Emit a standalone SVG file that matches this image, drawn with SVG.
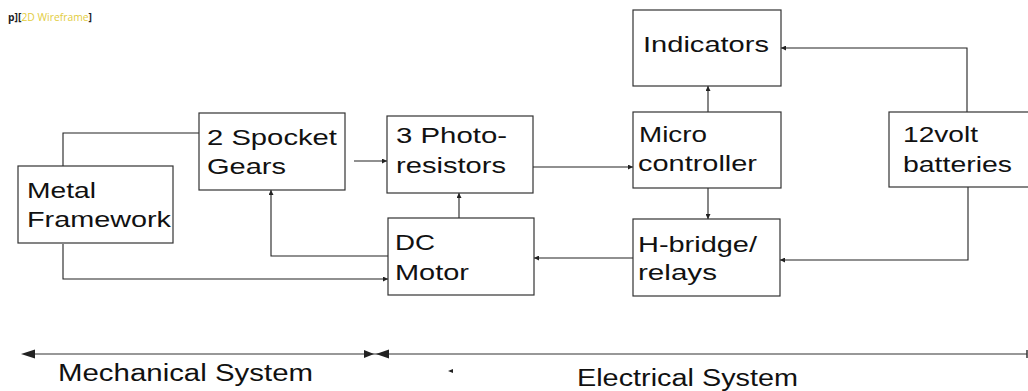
<svg xmlns="http://www.w3.org/2000/svg" width="1028" height="391" viewBox="0 0 1028 391">
  <defs>
    <marker id="ah" viewBox="0 0 10 10" refX="10" refY="5" markerWidth="6" markerHeight="5" orient="auto" markerUnits="userSpaceOnUse">
      <path d="M0,0 L10,5 L0,10 z" fill="#222"/>
    </marker>
  </defs>
  <style>
    .box { fill: #ffffff; stroke: #333333; stroke-width: 1.2; }
    .lbl { font-family: "Liberation Sans", Arial, sans-serif; font-size: 22.5px; fill: #111111; }
    .big { font-family: "Liberation Sans", Arial, sans-serif; font-size: 23px; fill: #111111; }
    .con { fill: none; stroke: #222222; stroke-width: 1.1; }
    .arr { marker-end: url(#ah); }
    .hd { fill: #222222; }
    .tag { font-family: "Open Sans", "Liberation Sans", sans-serif; font-size: 10px; font-weight: bold; fill: #222222; }
    .yel { fill: #e2cc3c; font-weight: normal; }
  </style>
  <rect width="1028" height="391" fill="#ffffff"/>

  <g id="viewport-label">
    <text class="tag" x="8" y="21" textLength="84" lengthAdjust="spacingAndGlyphs">p][<tspan class="yel">2D Wireframe</tspan>]</text>
  </g>

  <g id="connectors">
    <polyline class="con" points="63,166 63,133 199,133"/>
    <polyline class="con arr" points="63,244 63,279 388,279"/>
    <polyline class="con arr" points="388,256 271,256 271,190"/>
    <polyline class="con arr" points="354,161 387,161"/>
    <polyline class="con arr" points="459,218 459,193"/>
    <polyline class="con arr" points="533,167 633,167"/>
    <polyline class="con arr" points="633,258 534,258"/>
    <polyline class="con arr" points="708,112 708,86"/>
    <polyline class="con arr" points="708,188 708,219"/>
    <polyline class="con arr" points="967,112 967,48 781,48"/>
    <polyline class="con arr" points="968,187 968,260 780,260"/>
  </g>

  <g id="metal-framework">
    <rect class="box" x="18" y="166" width="155" height="77"/>
    <text class="lbl" x="27" y="198" textLength="69" lengthAdjust="spacingAndGlyphs">Metal</text>
    <text class="lbl" x="27" y="227" textLength="144" lengthAdjust="spacingAndGlyphs">Framework</text>
  </g>

  <g id="spocket-gears">
    <rect class="box" x="199" y="113" width="146" height="77"/>
    <text class="lbl" x="207" y="145" textLength="130" lengthAdjust="spacingAndGlyphs">2 Spocket</text>
    <text class="lbl" x="207" y="174" textLength="79" lengthAdjust="spacingAndGlyphs">Gears</text>
  </g>

  <g id="photo-resistors">
    <rect class="box" x="387" y="116" width="146" height="77"/>
    <text class="lbl" x="396" y="143" textLength="111" lengthAdjust="spacingAndGlyphs">3 Photo-</text>
    <text class="lbl" x="396" y="173" textLength="110" lengthAdjust="spacingAndGlyphs">resistors</text>
  </g>

  <g id="dc-motor">
    <rect class="box" x="388" y="218" width="146" height="77"/>
    <text class="lbl" x="395" y="250" textLength="40" lengthAdjust="spacingAndGlyphs">DC</text>
    <text class="lbl" x="395" y="280" textLength="74" lengthAdjust="spacingAndGlyphs">Motor</text>
  </g>

  <g id="indicators">
    <rect class="box" x="633" y="10" width="148" height="76"/>
    <text class="lbl" x="643" y="52" textLength="126" lengthAdjust="spacingAndGlyphs">Indicators</text>
  </g>

  <g id="micro-controller">
    <rect class="box" x="633" y="112" width="148" height="76"/>
    <text class="lbl" x="639" y="142" textLength="68" lengthAdjust="spacingAndGlyphs">Micro</text>
    <text class="lbl" x="638" y="171" textLength="119" lengthAdjust="spacingAndGlyphs">controller</text>
  </g>

  <g id="h-bridge">
    <rect class="box" x="633" y="219" width="147" height="77"/>
    <text class="lbl" x="638" y="252" textLength="119" lengthAdjust="spacingAndGlyphs">H-bridge/</text>
    <text class="lbl" x="638" y="280" textLength="79" lengthAdjust="spacingAndGlyphs">relays</text>
  </g>

  <g id="batteries">
    <rect class="box" x="889" y="112" width="145" height="75"/>
    <text class="lbl" x="903" y="142" textLength="75" lengthAdjust="spacingAndGlyphs">12volt</text>
    <text class="lbl" x="903" y="172" textLength="109" lengthAdjust="spacingAndGlyphs">batteries</text>
  </g>

  <g id="system-ranges">
    <line x1="28" y1="354" x2="1027" y2="354" stroke="#333333" stroke-width="1.2"/>
    <line x1="1027" y1="350" x2="1027" y2="358" stroke="#333333" stroke-width="1.5"/>
    <polygon class="hd" points="21,354 35,349.5 35,358.5"/>
    <polygon class="hd" points="374,354 364,350 364,358"/>
    <polygon class="hd" points="376,354 389,349.5 389,358.5"/>
    <polygon class="hd" points="448,371 453,369 453,373"/>
    <text class="big" x="58" y="381" textLength="255" lengthAdjust="spacingAndGlyphs">Mechanical System</text>
    <text class="big" x="577" y="386" textLength="221" lengthAdjust="spacingAndGlyphs">Electrical System</text>
  </g>
</svg>
